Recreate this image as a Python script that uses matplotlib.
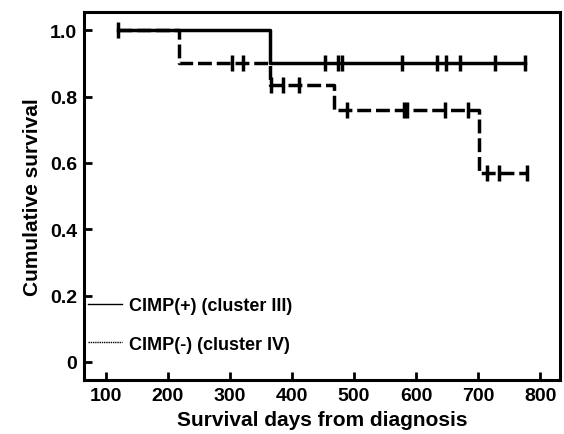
"""Kaplan-Meier curves: CIMP(+) vs CIMP(-)"""
import numpy as np
import matplotlib
matplotlib.use("Agg")
import matplotlib.pyplot as plt
from matplotlib.lines import Line2D

plt.rcParams['font.family'] = ['Liberation Sans', 'DejaVu Sans']
plt.rcParams['font.weight'] = 'bold'

# CIMP(+) (cluster III)
plus_times = [120, 365, 776]
plus_surv = [1.0, 0.9, 0.9]
plus_censor = [120, 453, 475, 480, 577, 633, 649, 671, 727, 776]

# CIMP(-) (cluster IV)
minus_times = [120, 218, 365, 468, 702, 778]
minus_surv = [1.0, 0.9, 0.836, 0.76, 0.57, 0.57]
minus_censor = [303, 321, 367, 385, 412, 488, 580, 586, 647, 684, 715, 733, 778]

x_ticks = [100, 200, 300, 400, 500, 600, 700, 800]
y_ticks = [0, 0.2, 0.4, 0.6, 0.8, 1.0]
y_ticklabels = ["0", "0.2", "0.4", "0.6", "0.8", "1.0"]


def surv_at(t, times, surv):
    # value of the step curve at time t
    i = np.searchsorted(times, t, side='right') - 1
    return np.asarray(surv)[np.clip(i, 0, len(surv) - 1)]


fig = plt.figure(figsize=(5.64, 4.35), dpi=100)
ax = fig.add_axes([0.149, 0.124, 0.844, 0.846])

lw = 2.5
# dashed curve first, solid on top
ax.step(minus_times, minus_surv, where='post', color='black', lw=lw,
        linestyle=(0, (4, 1.4)))
ax.plot(minus_censor, surv_at(minus_censor, minus_times, minus_surv), '|',
        color='black', markersize=11, markeredgewidth=2.5)

ax.step(plus_times, plus_surv, where='post', color='black', lw=lw)
ax.plot(plus_censor, surv_at(plus_censor, plus_times, plus_surv), '|',
        color='black', markersize=11, markeredgewidth=2.5)

ax.set_xlim(65, 832)
ax.set_ylim(-0.055, 1.055)
ax.set_xticks(x_ticks)
ax.set_yticks(y_ticks)
ax.set_yticklabels(y_ticklabels)
ax.tick_params(direction='in', length=6, width=2, labelsize=14, pad=5)
for s in ax.spines.values():
    s.set_linewidth(2.2)

ax.set_xlabel("Survival days from diagnosis", fontsize=15, fontweight='bold', labelpad=4)
ax.set_ylabel("Cumulative survival", fontsize=15, fontweight='bold', labelpad=6)

handles = [Line2D([], [], color='black', lw=1.0),
           Line2D([], [], color='black', lw=1.0, linestyle=(0, (1, 0.6)))]
ax.legend(handles, ["CIMP(+) (cluster III)", "CIMP(-) (cluster IV)"],
          loc='lower left', bbox_to_anchor=(-0.026, 0.03), frameon=False,
          fontsize=13, handlelength=1.9, handletextpad=0.35, labelspacing=1.2)

fig.savefig("out.png", dpi=100)
